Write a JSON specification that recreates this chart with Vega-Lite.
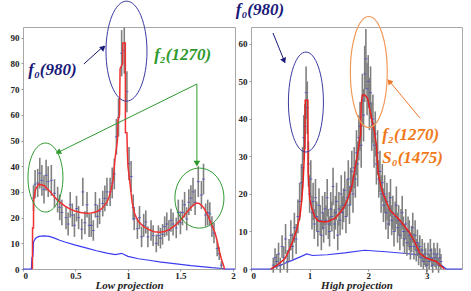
{
 "$schema": "https://vega.github.io/schema/vega-lite/v6.json",
 "autosize": {"type": "none"},
 "padding": {"left": 23, "top": 27, "right": 448, "bottom": 264},
 "spacing": 16,
 "bounds": "flush",
 "config": {
  "view": {"stroke": "#a8a8a8", "strokeWidth": 1},
  "axis": {"grid": false, "domain": false, "labelFont": "Liberation Serif", "labelFontWeight": "bold", "labelFontSize": 9, "labelColor": "#222222", "tickColor": "#999999", "tickSize": 2, "titleFont": "Liberation Serif", "titleFontStyle": "italic", "titleFontWeight": "bold", "titleFontSize": 11, "titleColor": "#222222"},
  "axisX": {"labelPadding": 0, "titleY": 19.5, "titleBaseline": "alphabetic"},
  "axisY": {"labelPadding": 2}
 },
 "datasets": {
  "lowPts": [
   {"x":0.10,"y":27.6,"e":5},{"x":0.115,"y":33,"e":5.5},{"x":0.14,"y":33.5,"e":5.5},{"x":0.16,"y":37.3,"e":6},{"x":0.18,"y":34.5,"e":6},{"x":0.20,"y":31,"e":5.5},{"x":0.22,"y":36.5,"e":6},{"x":0.24,"y":34,"e":6},{"x":0.27,"y":34.5,"e":6},{"x":0.30,"y":29.5,"e":5.5},{"x":0.33,"y":27,"e":5},{"x":0.35,"y":24,"e":5},{"x":0.37,"y":22,"e":5},{"x":0.41,"y":20,"e":4.5},{"x":0.43,"y":17.5,"e":4.5},{"x":0.45,"y":25,"e":5},{"x":0.47,"y":21,"e":4.5},{"x":0.49,"y":17,"e":4.5},{"x":0.51,"y":23.5,"e":5},{"x":0.53,"y":20,"e":4.5},{"x":0.56,"y":15.5,"e":4},{"x":0.57,"y":30,"e":5.5},{"x":0.59,"y":18,"e":4.5},{"x":0.61,"y":25,"e":5},{"x":0.63,"y":17,"e":4.5},{"x":0.65,"y":17,"e":4.5},{"x":0.67,"y":15,"e":4},{"x":0.69,"y":25,"e":5},{"x":0.71,"y":20.5,"e":4.5},{"x":0.73,"y":22.5,"e":5},{"x":0.76,"y":25.5,"e":5},{"x":0.78,"y":27.5,"e":5},{"x":0.80,"y":30,"e":5.5},{"x":0.83,"y":30,"e":5.5},{"x":0.85,"y":33.5,"e":6},{"x":0.87,"y":37,"e":6},{"x":0.89,"y":51.5,"e":7},{"x":0.91,"y":59,"e":7.5},{"x":0.94,"y":84,"e":9},{"x":0.965,"y":85,"e":9},{"x":0.99,"y":69,"e":8},{"x":1.01,"y":41,"e":6.5},{"x":1.03,"y":36,"e":6},{"x":1.05,"y":24,"e":5},{"x":1.06,"y":19.6,"e":4.5},{"x":1.09,"y":15.7,"e":4},{"x":1.11,"y":20,"e":4.5},{"x":1.13,"y":12.5,"e":4},{"x":1.15,"y":17,"e":4.5},{"x":1.17,"y":18.3,"e":4.5},{"x":1.19,"y":12.5,"e":4},{"x":1.22,"y":15,"e":4},{"x":1.24,"y":13,"e":4},{"x":1.27,"y":10,"e":3.5},{"x":1.29,"y":13,"e":4},{"x":1.31,"y":12,"e":4},{"x":1.33,"y":13.5,"e":4},{"x":1.35,"y":16.5,"e":4},{"x":1.37,"y":17.5,"e":4.5},{"x":1.39,"y":15,"e":4},{"x":1.41,"y":19,"e":4.5},{"x":1.43,"y":17.5,"e":4.5},{"x":1.46,"y":16,"e":4},{"x":1.48,"y":22,"e":5},{"x":1.50,"y":18,"e":4.5},{"x":1.52,"y":22,"e":5},{"x":1.54,"y":25,"e":5},{"x":1.56,"y":19.5,"e":4.5},{"x":1.58,"y":26,"e":5},{"x":1.60,"y":27.6,"e":5},{"x":1.62,"y":30,"e":5.5},{"x":1.64,"y":26,"e":5},{"x":1.67,"y":34,"e":6},{"x":1.70,"y":28.8,"e":5.5},{"x":1.72,"y":35,"e":6},{"x":1.74,"y":21,"e":4.5},{"x":1.76,"y":22,"e":5},{"x":1.78,"y":21.5,"e":4.5},{"x":1.80,"y":16.5,"e":4},{"x":1.82,"y":14,"e":4},{"x":1.85,"y":8,"e":3},{"x":1.87,"y":6,"e":2.5},{"x":1.89,"y":1.5,"e":1.5}
  ],
  "lowFit": [
   {"x":0.09,"y":0},{"x":0.091,"y":16},{"x":0.1,"y":16},{"x":0.101,"y":27},{"x":0.12,"y":31},{"x":0.15,"y":33},{"x":0.2,"y":32.5},{"x":0.25,"y":30.5},{"x":0.3,"y":28},{"x":0.35,"y":26},{"x":0.4,"y":24.5},{"x":0.45,"y":23.3},{"x":0.5,"y":22.5},{"x":0.55,"y":22},{"x":0.6,"y":21.7},{"x":0.65,"y":21.8},{"x":0.7,"y":22.3},{"x":0.75,"y":23.5},{"x":0.8,"y":26},{"x":0.82,"y":28},{"x":0.84,"y":31},{"x":0.86,"y":35},{"x":0.87,"y":40},{"x":0.88,"y":44},{"x":0.9,"y":50},{"x":0.905,"y":58},{"x":0.92,"y":60},{"x":0.925,"y":78},{"x":0.95,"y":80},{"x":0.951,"y":88},{"x":0.975,"y":88},{"x":0.976,"y":53},{"x":0.99,"y":53},{"x":0.995,"y":45},{"x":1.0,"y":40},{"x":1.02,"y":33},{"x":1.04,"y":26},{"x":1.06,"y":22},{"x":1.08,"y":20},{"x":1.1,"y":18.5},{"x":1.15,"y":16.5},{"x":1.2,"y":15.3},{"x":1.25,"y":14.5},{"x":1.3,"y":14.3},{"x":1.35,"y":14.6},{"x":1.4,"y":15.5},{"x":1.45,"y":17},{"x":1.5,"y":19},{"x":1.55,"y":21.5},{"x":1.6,"y":24},{"x":1.65,"y":25.7},{"x":1.68,"y":25.5},{"x":1.72,"y":24},{"x":1.76,"y":21},{"x":1.8,"y":17},{"x":1.83,"y":14},{"x":1.85,"y":11},{"x":1.87,"y":7},{"x":1.89,"y":4},{"x":1.91,"y":1.5},{"x":1.92,"y":0}
  ],
  "lowBg": [
   {"x":0,"y":0},{"x":0.08,"y":0},{"x":0.085,"y":4.5},{"x":0.095,"y":5},{"x":0.1,"y":10.5},{"x":0.12,"y":12},{"x":0.15,"y":12.7},{"x":0.2,"y":12.9},{"x":0.25,"y":12.7},{"x":0.3,"y":12},{"x":0.35,"y":11.2},{"x":0.4,"y":10.5},{"x":0.5,"y":9.3},{"x":0.6,"y":8.2},{"x":0.7,"y":7.1},{"x":0.8,"y":6.2},{"x":0.88,"y":5.6},{"x":0.94,"y":6.1},{"x":1.0,"y":4.9},{"x":1.1,"y":4},{"x":1.2,"y":3.4},{"x":1.3,"y":2.8},{"x":1.4,"y":2.3},{"x":1.5,"y":1.8},{"x":1.6,"y":1.3},{"x":1.7,"y":0.9},{"x":1.8,"y":0.5},{"x":1.9,"y":0.2},{"x":1.93,"y":0},{"x":2.02,"y":0}
  ],
  "highPts": [
   {"x":0.38,"y":1,"e":2},{"x":0.41,"y":3,"e":2.5},{"x":0.44,"y":2,"e":2},{"x":0.47,"y":4,"e":3},{"x":0.50,"y":1,"e":2},{"x":0.53,"y":6,"e":3},{"x":0.56,"y":3,"e":3},{"x":0.59,"y":8,"e":4},{"x":0.62,"y":2,"e":3},{"x":0.65,"y":5,"e":3},{"x":0.68,"y":9,"e":4},{"x":0.71,"y":6,"e":3.5},{"x":0.74,"y":11,"e":4},{"x":0.77,"y":8,"e":4},{"x":0.80,"y":14,"e":4.5},{"x":0.83,"y":18,"e":5},{"x":0.86,"y":23,"e":5},{"x":0.88,"y":27,"e":5.5},{"x":0.90,"y":35,"e":6},{"x":0.92,"y":38,"e":6},{"x":0.94,"y":47,"e":7},{"x":0.96,"y":43,"e":7},{"x":0.98,"y":28,"e":6},{"x":1.00,"y":20,"e":5},{"x":1.02,"y":24,"e":5},{"x":1.04,"y":15,"e":4.5},{"x":1.06,"y":18,"e":5},{"x":1.08,"y":12,"e":4},{"x":1.10,"y":19,"e":5},{"x":1.12,"y":14,"e":4},{"x":1.14,"y":10,"e":4},{"x":1.16,"y":17,"e":4.5},{"x":1.18,"y":13,"e":4},{"x":1.20,"y":9,"e":4},{"x":1.22,"y":15,"e":4.5},{"x":1.24,"y":11,"e":4},{"x":1.26,"y":16,"e":4.5},{"x":1.28,"y":13,"e":4},{"x":1.30,"y":19,"e":5},{"x":1.32,"y":12,"e":4},{"x":1.34,"y":10,"e":4},{"x":1.36,"y":16,"e":4.5},{"x":1.38,"y":14,"e":4},{"x":1.40,"y":22,"e":5},{"x":1.42,"y":12,"e":4},{"x":1.44,"y":15,"e":4.5},{"x":1.46,"y":18,"e":5},{"x":1.48,"y":9,"e":4},{"x":1.50,"y":16,"e":4.5},{"x":1.52,"y":13,"e":4},{"x":1.54,"y":20,"e":5},{"x":1.56,"y":15,"e":4.5},{"x":1.58,"y":17,"e":4.5},{"x":1.60,"y":21,"e":5},{"x":1.62,"y":14,"e":4.5},{"x":1.64,"y":19,"e":5},{"x":1.66,"y":24,"e":5},{"x":1.68,"y":17,"e":5},{"x":1.70,"y":22,"e":5},{"x":1.72,"y":26,"e":5.5},{"x":1.74,"y":20,"e":5},{"x":1.76,"y":27,"e":5.5},{"x":1.78,"y":24,"e":5},{"x":1.80,"y":31,"e":6},{"x":1.82,"y":28,"e":6},{"x":1.84,"y":35,"e":6},{"x":1.86,"y":38,"e":6.5},{"x":1.88,"y":33,"e":6},{"x":1.90,"y":45,"e":7},{"x":1.92,"y":41,"e":7},{"x":1.94,"y":52,"e":7.5},{"x":1.96,"y":56,"e":8},{"x":1.98,"y":48,"e":7},{"x":2.00,"y":50,"e":7},{"x":2.02,"y":44,"e":7},{"x":2.04,"y":47,"e":7},{"x":2.06,"y":38,"e":6.5},{"x":2.08,"y":40,"e":6.5},{"x":2.10,"y":33,"e":6},{"x":2.12,"y":36,"e":6},{"x":2.14,"y":28,"e":5.5},{"x":2.16,"y":31,"e":6},{"x":2.18,"y":24,"e":5},{"x":2.20,"y":26,"e":5.5},{"x":2.22,"y":20,"e":5},{"x":2.24,"y":23,"e":5},{"x":2.26,"y":17,"e":4.5},{"x":2.28,"y":20,"e":5},{"x":2.30,"y":15,"e":4.5},{"x":2.32,"y":18,"e":5},{"x":2.34,"y":12,"e":4},{"x":2.36,"y":16,"e":4.5},{"x":2.38,"y":19,"e":5},{"x":2.40,"y":13,"e":4},{"x":2.42,"y":15,"e":4.5},{"x":2.44,"y":10,"e":4},{"x":2.46,"y":14,"e":4},{"x":2.48,"y":17,"e":5},{"x":2.50,"y":11,"e":4},{"x":2.52,"y":13,"e":4},{"x":2.54,"y":9,"e":4},{"x":2.56,"y":12,"e":4},{"x":2.58,"y":15,"e":4.5},{"x":2.60,"y":10,"e":4},{"x":2.62,"y":8,"e":4},{"x":2.64,"y":12,"e":4},{"x":2.66,"y":7,"e":3.5},{"x":2.68,"y":10,"e":4},{"x":2.70,"y":9,"e":4},{"x":2.72,"y":6,"e":3.5},{"x":2.74,"y":8,"e":3.5},{"x":2.76,"y":11,"e":4},{"x":2.78,"y":6,"e":3.5},{"x":2.80,"y":9,"e":4},{"x":2.82,"y":5,"e":3},{"x":2.84,"y":7,"e":3.5},{"x":2.86,"y":4,"e":3},{"x":2.88,"y":6,"e":3},{"x":2.90,"y":3,"e":2.5},{"x":2.92,"y":5,"e":3},{"x":2.94,"y":2,"e":2},{"x":2.96,"y":4,"e":3},{"x":2.98,"y":3,"e":2.5},{"x":3.00,"y":1,"e":2},{"x":3.02,"y":4,"e":3},{"x":3.04,"y":2,"e":2},{"x":3.06,"y":5,"e":3},{"x":3.08,"y":3,"e":2.5},{"x":3.10,"y":1,"e":2},{"x":3.12,"y":4,"e":3},{"x":3.14,"y":3,"e":2.5},{"x":3.16,"y":2,"e":2},{"x":3.18,"y":4,"e":3},{"x":3.20,"y":1,"e":2},{"x":3.22,"y":3,"e":2.5},{"x":3.24,"y":2,"e":2}
  ],
  "highFit": [
   {"x":0.34,"y":0},{"x":0.45,"y":1},{"x":0.58,"y":2.8},{"x":0.65,"y":5},{"x":0.72,"y":7.7},{"x":0.78,"y":10.5},{"x":0.835,"y":14},{"x":0.87,"y":19},{"x":0.89,"y":23.7},{"x":0.91,"y":30},{"x":0.92,"y":35},{"x":0.925,"y":45},{"x":0.97,"y":45},{"x":0.975,"y":26},{"x":1.0,"y":19},{"x":1.03,"y":16.6},{"x":1.09,"y":13.8},{"x":1.15,"y":12.8},{"x":1.23,"y":12.6},{"x":1.3,"y":12.6},{"x":1.43,"y":13.5},{"x":1.52,"y":15},{"x":1.6,"y":16.8},{"x":1.66,"y":19},{"x":1.72,"y":22},{"x":1.76,"y":25.5},{"x":1.8,"y":29},{"x":1.84,"y":32.8},{"x":1.87,"y":36},{"x":1.88,"y":44},{"x":1.9,"y":46.4},{"x":1.94,"y":46.4},{"x":1.99,"y":45.5},{"x":2.02,"y":43},{"x":2.06,"y":40},{"x":2.1,"y":37},{"x":2.14,"y":33},{"x":2.17,"y":25.6},{"x":2.21,"y":22.5},{"x":2.25,"y":20.2},{"x":2.37,"y":15.7},{"x":2.54,"y":13},{"x":2.71,"y":9.6},{"x":2.8,"y":7},{"x":2.88,"y":4.2},{"x":2.99,"y":2.9},{"x":3.16,"y":2},{"x":3.3,"y":0}
  ],
  "highBg": [
   {"x":0,"y":0},{"x":0.33,"y":0},{"x":0.5,"y":1},{"x":0.7,"y":2.3},{"x":0.85,"y":3.3},{"x":0.95,"y":4},{"x":1.05,"y":3.6},{"x":1.3,"y":3.8},{"x":1.6,"y":4.3},{"x":1.94,"y":5},{"x":2.3,"y":4.6},{"x":2.6,"y":4.2},{"x":2.79,"y":3.9},{"x":2.95,"y":3.2},{"x":3.13,"y":2.5},{"x":3.33,"y":0},{"x":3.6,"y":0}
  ]
 },
 "hconcat": [
  {
   "width": 212, "height": 242,
   "encoding": {
    "x": {"field": "x", "type": "quantitative", "scale": {"domain": [0, 2.02], "nice": false, "zero": false}, "axis": {"values": [0, 0.5, 1, 1.5, 2], "format": "~g", "title": "Low projection"}},
    "y": {"field": "y", "type": "quantitative", "scale": {"domain": [0, 94.2], "nice": false, "zero": false}, "axis": {"values": [0, 10, 20, 30, 40, 50, 60, 70, 80, 90], "title": null}}
   },
   "layer": [
    {"data": {"name": "lowBg"}, "mark": {"type": "line", "color": "#3c3cf0", "strokeWidth": 1.2}},
    {"data": {"name": "lowPts"}, "mark": {"type": "errorbar", "color": "#808080", "thickness": 1.6}, "encoding": {"yError": {"field": "e"}}},
    {"data": {"name": "lowPts"}, "mark": {"type": "tick", "orient": "horizontal", "color": "#4040d0", "size": 3, "thickness": 1}},
    {"data": {"name": "lowFit"}, "mark": {"type": "line", "color": "#f03030", "strokeWidth": 1.5}},
    {"data": {"values": [{"x": 0.986, "y": 84.8}]}, "mark": {"type": "point", "shape": "M-0.41,0A0.41,1 0 1,1 0.41,0A0.41,1 0 1,1 -0.41,0Z", "size": 10000, "color": "#3a3aa0", "strokeWidth": 1, "filled": false, "opacity": 1}},
    {"data": {"values": [{"x": 0.214, "y": 35.6}]}, "mark": {"type": "point", "shape": "M-0.507,0A0.507,1 0 1,1 0.507,0A0.507,1 0 1,1 -0.507,0Z", "size": 4761, "color": "#2e9a2e", "strokeWidth": 1, "filled": false, "opacity": 1}},
    {"data": {"values": [{"x": 1.681, "y": 27.6}]}, "mark": {"type": "point", "shape": "M-0.817,0A0.817,1 0 1,1 0.817,0A0.817,1 0 1,1 -0.817,0Z", "size": 3600, "color": "#2e9a2e", "strokeWidth": 1, "filled": false, "opacity": 1}},
    {"data": {"values": [{"x": 1.657, "y": 72, "x2": 0.33, "y2": 45.3}, {"x": 1.657, "y": 72, "x2": 1.657, "y2": 41.5}]}, "mark": {"type": "rule", "color": "#2e9a2e", "strokeWidth": 1}, "encoding": {"x2": {"field": "x2"}, "y2": {"field": "y2"}}},
    {"data": {"values": [{"x": 0.58, "y": 79.8, "x2": 0.77, "y2": 86.8}]}, "mark": {"type": "rule", "color": "#1a1a78", "strokeWidth": 1}, "encoding": {"x2": {"field": "x2"}, "y2": {"field": "y2"}}},
    {"data": {"values": [{"x": 0.335, "y": 45.4}]}, "mark": {"type": "point", "shape": "triangle-up", "angle": 244, "size": 40, "filled": true, "color": "#2e9a2e", "opacity": 1}},
    {"data": {"values": [{"x": 1.657, "y": 41.0}]}, "mark": {"type": "point", "shape": "triangle-up", "angle": 180, "size": 45, "filled": true, "color": "#2e9a2e", "opacity": 1}},
    {"data": {"values": [{"x": 0.765, "y": 86.2}]}, "mark": {"type": "point", "shape": "triangle-up", "angle": 49, "size": 40, "filled": true, "color": "#1a1a78", "opacity": 1}},
    {"data": {"values": [{"x": 0.05, "y": 75.5, "label": "f₀(980)"}]}, "mark": {"type": "text", "align": "left", "baseline": "alphabetic", "font": "Liberation Serif", "fontStyle": "italic", "fontWeight": "bold", "fontSize": 17, "color": "#1a1a78"}, "encoding": {"text": {"field": "label"}}},
    {"data": {"values": [{"x": 1.25, "y": 81.3, "label": "f₂(1270)"}]}, "mark": {"type": "text", "align": "left", "baseline": "alphabetic", "font": "Liberation Serif", "fontStyle": "italic", "fontWeight": "bold", "fontSize": 17, "color": "#2e9a2e"}, "encoding": {"text": {"field": "label"}}}
   ]
  },
  {
   "width": 211, "height": 242,
   "encoding": {
    "x": {"field": "x", "type": "quantitative", "scale": {"domain": [0, 3.6], "nice": false, "zero": false}, "axis": {"values": [0, 1, 2, 3], "format": "~g", "title": "High projection"}},
    "y": {"field": "y", "type": "quantitative", "scale": {"domain": [0, 64.5], "nice": false, "zero": false}, "axis": {"values": [0, 10, 20, 30, 40, 50, 60], "title": null}}
   },
   "layer": [
    {"data": {"name": "highBg"}, "mark": {"type": "line", "color": "#3c3cf0", "strokeWidth": 1.2}},
    {"data": {"name": "highPts"}, "mark": {"type": "errorbar", "color": "#808080", "thickness": 1.6}, "encoding": {"yError": {"field": "e"}}},
    {"data": {"name": "highPts"}, "mark": {"type": "tick", "orient": "horizontal", "color": "#4040d0", "size": 3, "thickness": 1}},
    {"data": {"name": "highFit"}, "mark": {"type": "line", "color": "#e82020", "strokeWidth": 1.5}},
    {"data": {"values": [{"x": 0.937, "y": 44.5}]}, "mark": {"type": "point", "shape": "M-0.35,0A0.35,1 0 1,1 0.35,0A0.35,1 0 1,1 -0.35,0Z", "size": 10000, "color": "#3a3aa0", "strokeWidth": 1, "filled": false, "opacity": 1}},
    {"data": {"values": [{"x": 2.01, "y": 52.5}]}, "mark": {"type": "point", "shape": "M-0.333,0A0.333,1 0 1,1 0.333,0A0.333,1 0 1,1 -0.333,0Z", "size": 12321, "color": "#f29a5a", "strokeWidth": 1.2, "filled": false, "opacity": 1}},
    {"data": {"values": [{"x": 0.375, "y": 62.9, "x2": 0.58, "y2": 55}]}, "mark": {"type": "rule", "color": "#1a1a78", "strokeWidth": 1}, "encoding": {"x2": {"field": "x2"}, "y2": {"field": "y2"}}},
    {"data": {"values": [{"x": 2.879, "y": 40.3, "x2": 2.36, "y2": 50.1}]}, "mark": {"type": "rule", "color": "#f07828", "strokeWidth": 1}, "encoding": {"x2": {"field": "x2"}, "y2": {"field": "y2"}}},
    {"data": {"values": [{"x": 0.565, "y": 55.5}]}, "mark": {"type": "point", "shape": "triangle-up", "angle": 158, "size": 40, "filled": true, "color": "#1a1a78", "opacity": 1}},
    {"data": {"values": [{"x": 2.36, "y": 50.0}]}, "mark": {"type": "point", "shape": "triangle-up", "angle": 320, "size": 40, "filled": true, "color": "#f07828", "opacity": 1}},
    {"data": {"values": [{"x": -0.26, "y": 67.7, "label": "f₀(980)"}]}, "mark": {"type": "text", "align": "left", "baseline": "alphabetic", "font": "Liberation Serif", "fontStyle": "italic", "fontWeight": "bold", "fontSize": 17, "color": "#1a1a78"}, "encoding": {"text": {"field": "label"}}},
    {"data": {"values": [{"x": 2.24, "y": 34.4, "label": "f₂(1270)"}, {"x": 2.24, "y": 28.2, "label": "S₀(1475)"}]}, "mark": {"type": "text", "align": "left", "baseline": "alphabetic", "font": "Liberation Serif", "fontStyle": "italic", "fontWeight": "bold", "fontSize": 17, "color": "#f07818"}, "encoding": {"text": {"field": "label"}}}
   ]
  }
 ]
}
